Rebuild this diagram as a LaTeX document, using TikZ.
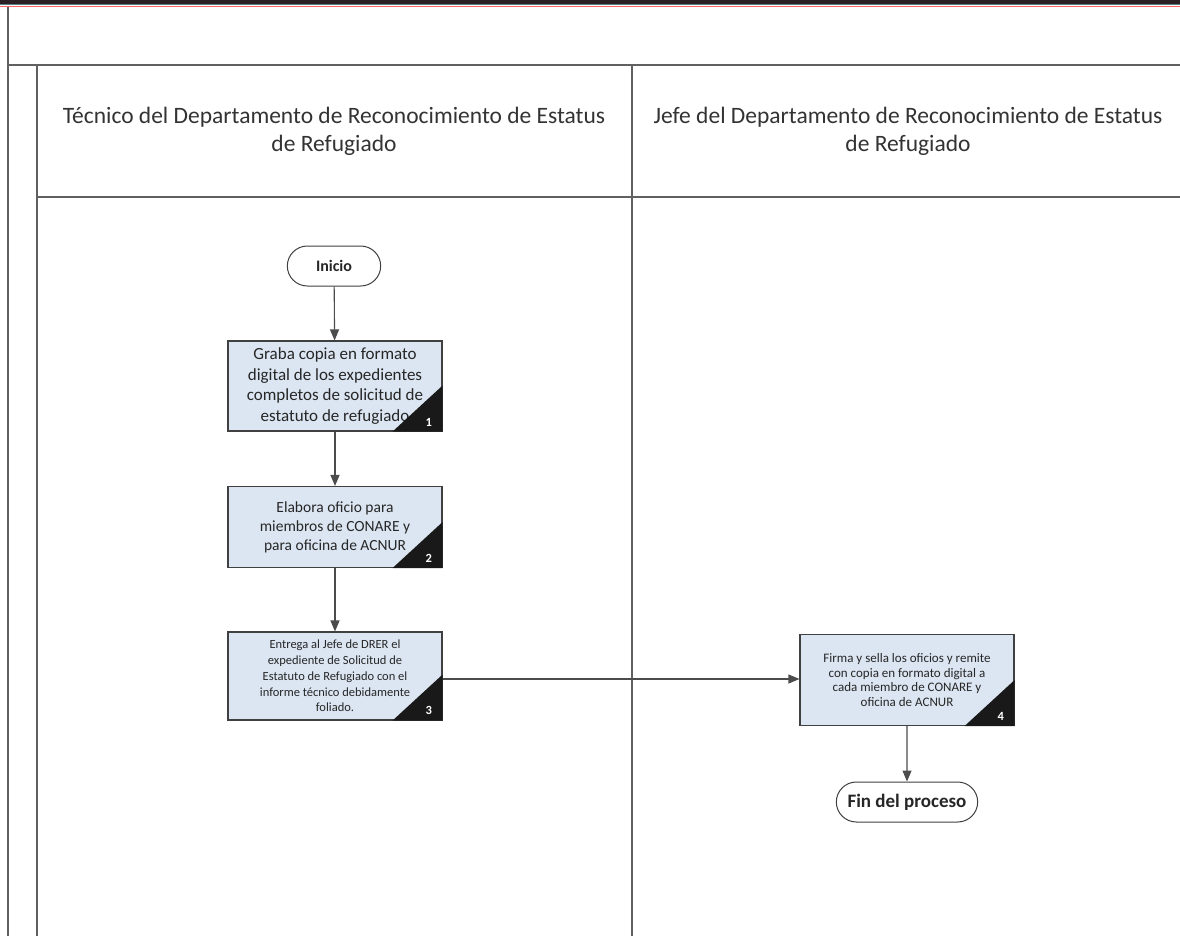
\documentclass[tikz,border=0pt]{standalone}
\usepackage{fontspec}
\setmainfont{Carlito}
\usetikzlibrary{arrows.meta,shapes.misc}
\definecolor{boxfill}{HTML}{DCE6F2}
\definecolor{framegray}{HTML}{606060}
\definecolor{topdark}{HTML}{2A2026}
\tikzset{
  lane/.style={draw=framegray, line width=1.2pt},
  stepbox/.style={draw=black!75, line width=1.1pt, fill=boxfill, minimum width=214pt,
    align=center, inner sep=2pt, text=black!85},
  terminal/.style={draw=black!75, line width=1pt, rounded rectangle, fill=white,
    minimum height=40pt, font=\bfseries, text=black!85},
  flow/.style={draw=black!70, line width=1.1pt, -{Triangle[length=11pt,width=9pt]}},
  lanetitle/.style={align=center, font=\fontsize{23.5}{28}\selectfont, text=black!80},
  numtag/.style={text=white, font=\bfseries\fontsize{12.5}{13}\selectfont}
}
\newcommand{\cornertag}[2]{%
  \fill[black!90] (#1.south east) -- ++(-50pt,0) -- ++(50pt,46pt) -- cycle;
  \node[numtag, anchor=south east] at ([shift={(-7pt,2pt)}]#1.south east) {#2};}
\begin{document}
\begin{tikzpicture}[x=1pt,y=-1pt]
\useasboundingbox (0,0) rectangle (1180,936);
\fill[white] (0,0) rectangle (1180,936);
% top band
\fill[topdark] (0,0) rectangle (1180,4);
\draw[gray!70!teal, line width=1pt] (0,4.5) -- (1180,4.5);
\draw[red!60, line width=0.6pt] (0,6.5) -- (1180,6.5);
% frame and swimlanes
\draw[lane] (8,7) -- (8,936);
\draw[lane] (8,65) -- (1180,65);
\draw[lane] (37,65) -- (37,936);
\draw[lane] (632,65) -- (632,936);
\draw[lane] (37,197) -- (1180,197);
\node[lanetitle] (h1) at (334,131) {Técnico del Departamento de Reconocimiento de Estatus\\de Refugiado};
\node[lanetitle] (h2) at (908,131) {Jefe del Departamento de Reconocimiento de Estatus\\de Refugiado};
% process steps
\node[terminal, minimum width=100pt, font=\bfseries\fontsize{16}{18}\selectfont] (ini) at (334,266) {Inicio};
\node[stepbox, minimum height=90pt, font=\fontsize{17}{20.5}\selectfont] (s1) at (335,386)
  {Graba copia en formato\\digital de los expedientes\\completos de solicitud de\\estatuto de refugiado};
\node[stepbox, minimum height=81pt, font=\fontsize{15.5}{19}\selectfont] (s2) at (335,527)
  {Elabora oficio para\\miembros de CONARE y\\para oficina de ACNUR};
\node[stepbox, minimum height=88pt, font=\fontsize{12.5}{15.8}\selectfont] (s3) at (335,676)
  {Entrega al Jefe de DRER el\\expediente de Solicitud de\\Estatuto de Refugiado con el\\informe técnico debidamente\\foliado.};
\node[stepbox, minimum height=91pt, font=\fontsize{13}{14.5}\selectfont] (s4) at (907,680)
  {Firma y sella los oficios y remite\\con copia en formato digital a\\cada miembro de CONARE y\\oficina de ACNUR};
\node[terminal, minimum width=148pt, font=\bfseries\fontsize{19}{21}\selectfont] (fin) at (907,802) {Fin del proceso};
\cornertag{s1}{1}
\cornertag{s2}{2}
\cornertag{s3}{3}
\cornertag{s4}{4}
% connectors
\draw[flow] (ini) -- (s1);
\draw[flow] (s1) -- (s2);
\draw[flow] (s2) -- (s3);
\draw[flow] (s3.east |- 0,679) -- (s4.west |- 0,679);
\draw[flow] (s4) -- (fin);
\end{tikzpicture}
\end{document}
